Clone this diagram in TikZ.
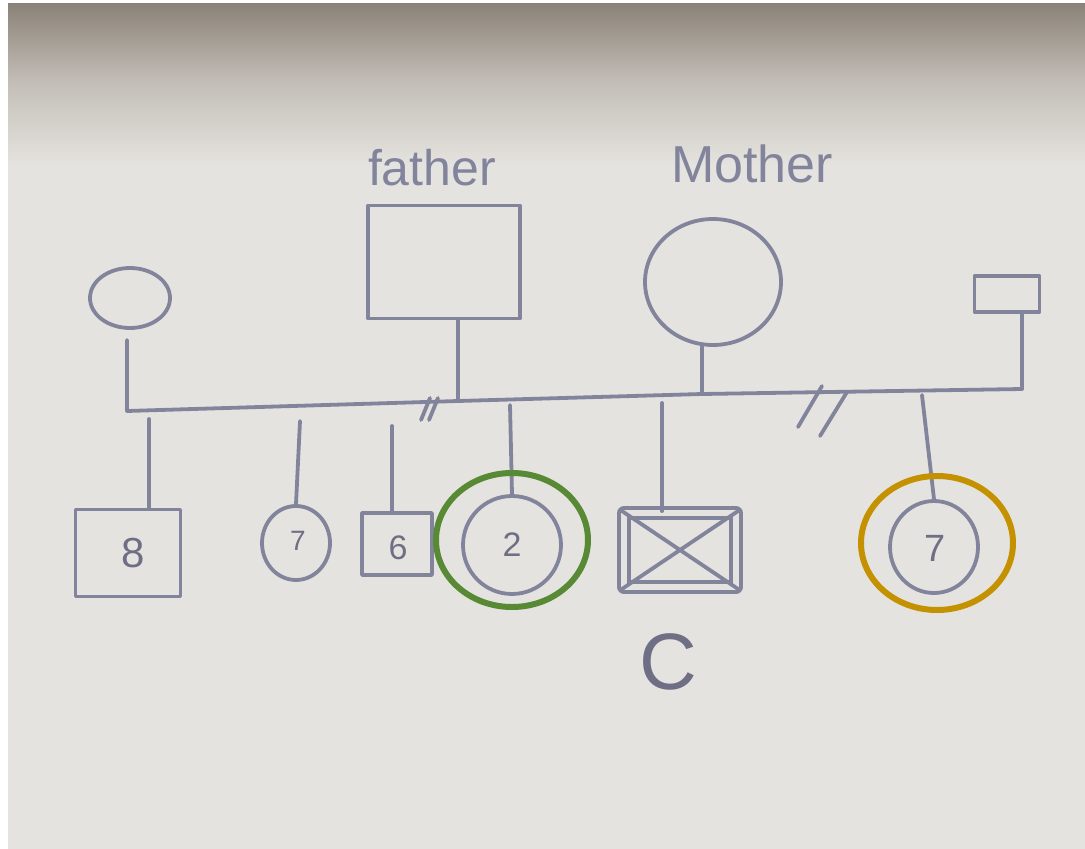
\documentclass[tikz,border=0pt]{standalone}
\usepackage{fontspec}
\setmainfont{Liberation Sans}
\usetikzlibrary{shapes.geometric}
\definecolor{paper}{RGB}{229,227,223}
\definecolor{papertop}{RGB}{138,130,120}
\definecolor{papermid}{RGB}{196,191,184}
\definecolor{pen}{RGB}{130,132,155}
\definecolor{pendark}{RGB}{110,111,132}
\definecolor{hlgreen}{RGB}{88,137,52}
\definecolor{hlorange}{RGB}{196,145,0}
\begin{document}
\begin{tikzpicture}[x=1pt,y=-1pt,
  pencil/.style={draw=pen, line width=3.8pt, line cap=round, line join=round},
  male/.style={pencil, rectangle, inner sep=0pt},
  female/.style={pencil, ellipse, inner sep=0pt},
  hand/.style={text=pen, inner sep=0pt},
  numtext/.style={text=pendark, inner sep=0pt, font=\fontsize{34}{34}\selectfont},
  highlight/.style={ellipse, line width=6pt, inner sep=0pt}
]
% background / paper
\useasboundingbox (0,0) rectangle (1085,849);
\fill[white] (0,0) rectangle (1085,849);
\fill[paper] (8,3) rectangle (1085,849);
\shade[top color=papertop, bottom color=paper, middle color=papermid] (8,3) rectangle (1085,165);

% labels
\node[hand, font=\fontsize{50}{50}\selectfont] (lfather) at (432,168) {father};
\node[hand, font=\fontsize{52}{52}\selectfont] (lmother) at (752,164) {Mother};

% parents generation
\node[male, minimum width=152, minimum height=113] (father) at (444,262) {};
\node[female, minimum width=136, minimum height=126] (mother) at (713,282) {};
\node[female, minimum width=80, minimum height=60] (lw) at (130,298) {};
\node[male, minimum width=65, minimum height=36] (rm) at (1007,294) {};

% junctions on the sibship lines
\coordinate (jL) at (127,411);
\coordinate (jF) at (458,401);
\coordinate (jM) at (702,394);
\coordinate (jR) at (1022,389);

\draw[pencil, shorten <=10pt] (lw.south -| jL) -- (jL) -- (jF);
\draw[pencil] (father.south -| jF) -- (jF);
\draw[pencil] (jF) -- (jM) -- (jR);
\draw[pencil] (mother.south -| jM) -- (jM);
\draw[pencil] (rm.south -| jR) -- (jR);

% break marks
\coordinate (sa1) at (421,420); \coordinate (sa2) at (430,398);
\coordinate (sb1) at (429,420); \coordinate (sb2) at (438,398);
\draw[pencil] (sa1) -- (sa2);
\draw[pencil] (sb1) -- (sb2);
\coordinate (sc1) at (798,427); \coordinate (sc2) at (822,386);
\coordinate (sd1) at (820,436); \coordinate (sd2) at (847,392);
\draw[pencil] (sc1) -- (sc2);
\draw[pencil] (sd1) -- (sd2);

% children
\node[male, minimum width=105, minimum height=87] (s8) at (128,553) {};
\node[numtext, font=\fontsize{42}{42}\selectfont] (n8) at (133,553) {8};
\node[female, minimum width=68, minimum height=74] (d7) at (296,543) {};
\node[numtext, font=\fontsize{28}{28}\selectfont] (n7) at (298,541) {7};
\node[male, minimum width=70, minimum height=62] (s6) at (397,544) {};
\node[numtext] (n6) at (398,548) {6};
\node[female, minimum width=98, minimum height=98] (d2) at (512,545) {};
\node[numtext] (n2) at (512,545) {2};
\node[male, minimum width=112, minimum height=74, double=paper, double distance=6pt] (dx) at (680,550) {};
\draw[pencil] (dx.north west) -- (dx.south east);
\draw[pencil] (dx.south west) -- (dx.north east);
\node[female, minimum width=88, minimum height=92] (d7b) at (934,547) {};
\node[numtext, font=\fontsize{38}{38}\selectfont] (n7b) at (935,548) {7};

% drops
\coordinate (b8) at (149,419);
\coordinate (b7) at (300,421);
\coordinate (b6) at (392,426);
\coordinate (b2) at (510,405);
\coordinate (bx) at (662,403);
\coordinate (bb) at (922,395);
\draw[pencil] (b8) -- (b8 |- s8.north);
\draw[pencil] (b7) -- (d7.north);
\draw[pencil] (b6) -- (b6 |- s6.north);
\draw[pencil] (b2) -- (d2.north);
\draw[pencil] (bx) -- (bx |- dx.north);
\draw[pencil] (bb) -- (d7b.north);

% highlights
\node[highlight, draw=hlgreen, minimum width=152, minimum height=134] (hg) at (512,540) {};
\node[highlight, draw=hlorange, minimum width=152, minimum height=134] (ho) at (937,543) {};

% C label
\node[text=pendark, inner sep=0pt, font=\fontsize{80}{80}\selectfont] (lc) at (668,662) {C};
\end{tikzpicture}
\end{document}
